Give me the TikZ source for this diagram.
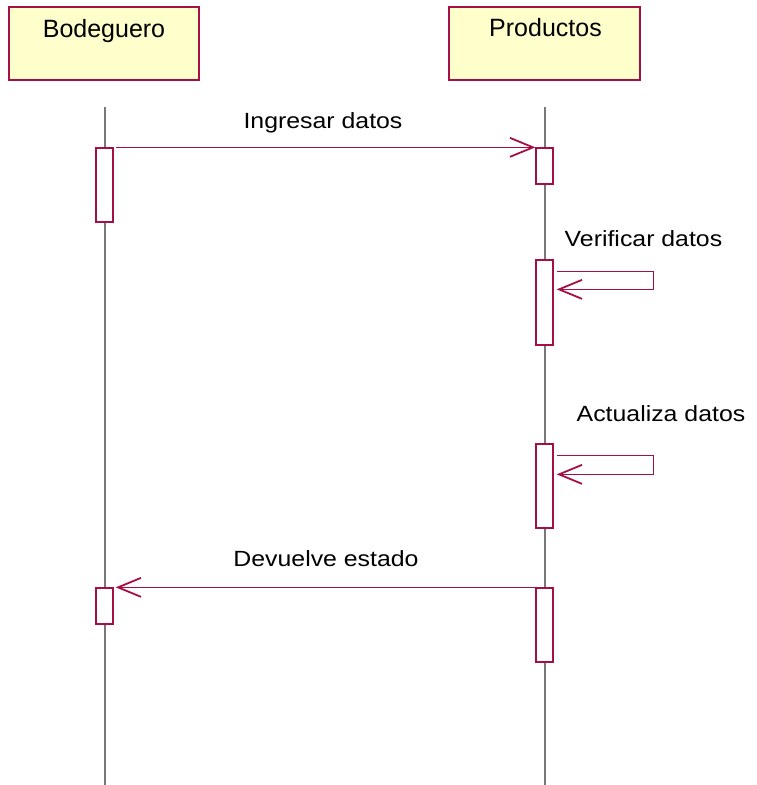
\documentclass[tikz,border=0pt]{standalone}
\usepackage{fontspec}
\setmainfont{Liberation Sans}
\newfontfamily\hdfont{Liberation Sans}
\newfontfamily\msgfont[FakeStretch=1.13]{Liberation Sans}
\usetikzlibrary{arrows.meta,calc}
\definecolor{umlred}{RGB}{165,15,70}
\definecolor{actorfill}{RGB}{255,255,204}
\definecolor{lifegray}{RGB}{120,120,120}
\tikzset{
  actorbox/.style={draw=umlred, fill=actorfill, line width=1.3pt, rectangle,
    minimum width=190pt, minimum height=73pt, inner sep=0pt},
  actorname/.style={anchor=base, inner sep=0pt, font=\hdfont\fontsize{25}{30}\selectfont},
  lifeline/.style={draw=lifegray, line width=1.2pt},
  actbar/.style={draw=umlred, fill=white, line width=1.3pt, rectangle,
    minimum width=17pt, inner sep=0pt},
  msg/.style={draw=umlred, line width=1.3pt,
    -{Straight Barb[length=23pt, width=19pt, line width=1.8pt]}},
  msglabel/.style={anchor=base, inner sep=0pt, font=\msgfont\fontsize{22}{26}\selectfont}
}
\begin{document}
\begin{tikzpicture}[x=1pt, y=-1pt]
\useasboundingbox (0,0) rectangle (757,785);

% actor headers
\node[actorbox] (bod) at (104,43.5) {};
\node[actorname] (bodname) at (104,37.3) {Bodeguero};
\node[actorbox, minimum width=191pt] (prod) at (544.5,43.5) {};
\node[actorname] (prodname) at (545.5,36.7) {Productos};

% lifelines
\coordinate (bodtop) at (105,107);
\coordinate (bodend) at (105,785);
\coordinate (prodtop) at (545,107);
\coordinate (prodend) at (545,785);
\draw[lifeline] (bodtop) -- (bodend);
\draw[lifeline] (prodtop) -- (prodend);

% activation bars
\node[actbar, minimum height=74pt] (b1) at (104.5,185) {};
\node[actbar, minimum height=36pt] (b2) at (104.5,606) {};
\node[actbar, minimum height=36pt] (p1) at (544.5,166) {};
\node[actbar, minimum height=85pt] (p2) at (544.5,302.5) {};
\node[actbar, minimum height=84pt] (p3) at (544.5,486) {};
\node[actbar, minimum height=74pt] (p4) at (544.5,625) {};

% Ingresar datos
\draw[msg] ([xshift=2pt]b1.north east) -- (p1.north west);
\node[msglabel] (m1) at (323,128.3) {Ingresar datos};

% Verificar datos (self message)
\coordinate (v1) at ($(p2.north east)+(3,12)$);
\coordinate (v2) at ($(p2.north east)+(3,30)$);
\draw[msg] (v1) -- ++(97,0) |- (v2);
\node[msglabel] (m2) at (643.5,246) {Verificar datos};

% Actualiza datos (self message)
\coordinate (a1) at ($(p3.north east)+(3,12)$);
\coordinate (a2) at ($(p3.north east)+(3,31)$);
\draw[msg] (a1) -- ++(97,0) |- (a2);
\node[msglabel] (m3) at (661,421.7) {Actualiza datos};

% Devuelve estado
\draw[msg] (p4.north west) -- ([xshift=2pt]b2.north east);
\node[msglabel] (m4) at (326,566) {Devuelve estado};
\end{tikzpicture}
\end{document}
